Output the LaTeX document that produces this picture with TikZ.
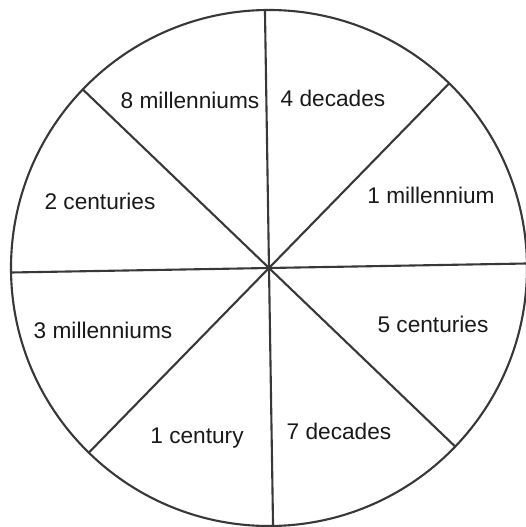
\documentclass[tikz,border=0pt]{standalone}
\usepackage{fontspec}
\setmainfont{Liberation Sans}
\begin{document}
\begin{tikzpicture}[
    x=0.02cm, y=0.02cm,
    rim/.style={
        draw=black!78,
        line width=1.2pt
    },
    spoke/.style={
        draw=black!78,
        line width=1.2pt
    },
    period/.style={
        anchor=base,
        font=\fontsize{12.9}{15}\selectfont,
        text=black!90,
        inner sep=0pt
    }
]
    \useasboundingbox (-269,-259) rectangle (256,268);

    \coordinate (hub) at (0,0);
    \draw[rim] (hub) circle (258);

    \foreach \ang in {1, 45.7, 90.9, 136.2}
        \draw[spoke] (\ang:258) -- (\ang+180:258);

    \node[period] (eightmil) at (-79,159) {8 millenniums};
    \node[period] (fourdec) at (64,161) {4 decades};
    \node[period] (twocent) at (-169,58) {2 centuries};
    \node[period] (onemil) at (162,64) {1 millennium};
    \node[period] (threemil) at (-166,-71) {3 millenniums};
    \node[period] (fivecent) at (164,-65) {5 centuries};
    \node[period] (onecent) at (-72,-175) {1 century};
    \node[period] (sevendec) at (70,-171) {7 decades};
\end{tikzpicture}
\end{document}
